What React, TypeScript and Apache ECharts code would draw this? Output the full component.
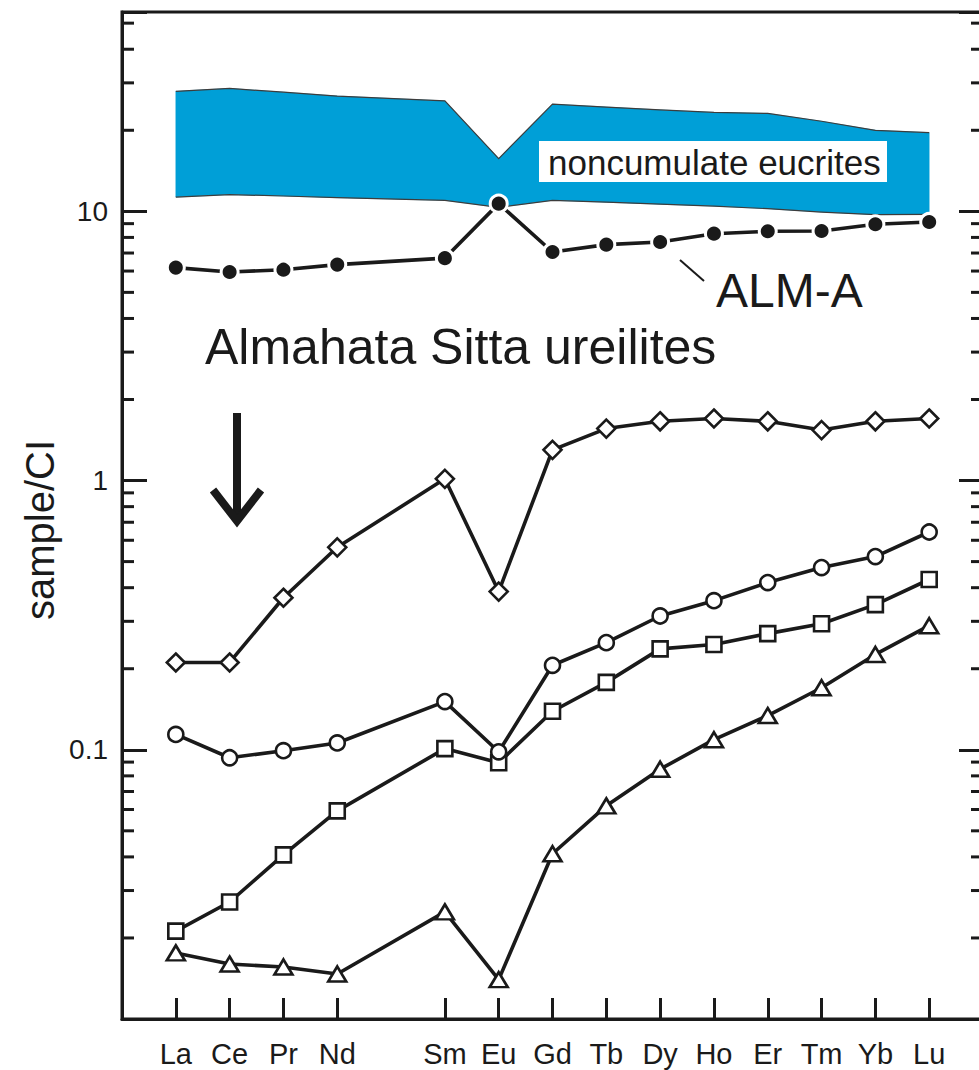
import React, { useEffect, useRef } from 'react';
import * as echarts from 'echarts';

// Rare-earth elements (padding slots at both ends; Pm is not analysed)
const categories = [' ', 'La', 'Ce', 'Pr', 'Nd', 'Pm', 'Sm', 'Eu', 'Gd', 'Tb', 'Dy', 'Ho', 'Er', 'Tm', 'Yb', 'Lu', '  '];
const hiddenCategories = [' ', 'Pm', '  '];

// ALM-A (filled circles)
const almA = [null, 6.18, 5.95, 6.07, 6.34, null, 6.7, 10.68, 7.06, 7.52, 7.69, 8.26, 8.43, 8.45, 8.95, 9.13, null];
// Almahata Sitta ureilites
const diamonds = [null, 0.211, 0.211, 0.367, 0.565, null, 1.015, 0.387, 1.3, 1.56, 1.66, 1.7, 1.66, 1.54, 1.66, 1.7, null];
const circles = [null, 0.114, 0.0934, 0.0992, 0.106, null, 0.151, 0.0983, 0.206, 0.25, 0.314, 0.358, 0.418, 0.475, 0.522, 0.644, null];
const squares = [null, 0.0212, 0.0272, 0.0407, 0.0593, null, 0.101, 0.0895, 0.139, 0.178, 0.237, 0.246, 0.27, 0.294, 0.346, 0.429, null];
const triangles = [null, 0.0176, 0.016, 0.0156, 0.0147, null, 0.025, 0.014, 0.0411, 0.0619, 0.0847, 0.109, 0.134, 0.17, 0.226, 0.289, null];
// Noncumulate eucrites field
const eucriteTop = [null, 27.9, 28.6, 27.7, 26.8, null, 25.7, 15.7, 25.0, 24.4, 23.8, 23.3, 23.1, 21.6, 20.0, 19.6, null];
const eucriteBottom = [null, 11.3, 11.54, 11.4, 11.24, null, 10.99, 10.35, 10.99, 10.81, 10.63, 10.46, 10.23, 9.94, 9.72, 9.75, null];

// Y axis
const yMin = 0.01;
const yMax = 55;
const yTickLabels = ['0.1', '1', '10'];
const minorTickValues = [
  0.02, 0.03, 0.04, 0.05, 0.06, 0.07, 0.08, 0.09,
  0.2, 0.3, 0.4, 0.5, 0.6, 0.7, 0.8, 0.9,
  2, 3, 4, 5, 6, 7, 8, 9,
  20, 30, 40, 50,
];

export default function App() {
  const ref = useRef<HTMLDivElement>(null);

  useEffect(() => {
    if (!ref.current) return;
    const chart = echarts.init(ref.current, null, { renderer: 'svg' });
    const font = "'Liberation Sans', Arial, Helvetica, sans-serif";
    const ink = '#1a1a1a';
    const blue = '#009fd7';

    const yFormatter = (v: number) => {
      const hit = yTickLabels.find((s) => Math.abs(v / parseFloat(s) - 1) < 1e-6);
      return hit ? hit : '';
    };

    const lineSeries = (name: string, data: (number | null)[], symbol: string, size: any, filled = false) => ({
      type: 'line',
      name,
      data,
      connectNulls: true,
      symbol,
      symbolSize: size,
      showAllSymbol: true,
      lineStyle: { color: ink, width: 3.6 },
      itemStyle: {
        color: filled ? ink : '#ffffff',
        borderColor: filled ? '#ffffff' : ink,
        borderWidth: filled ? 3 : 2.6,
      },
      z: 5,
      silent: true,
    });

    const option: any = {
      animation: false,
      backgroundColor: '#ffffff',
      grid: {
        left: 122,
        top: 12,
        right: 0,
        bottom: 51,
        show: true,
        borderColor: ink,
        borderWidth: 3,
        backgroundColor: 'transparent',
      },
      xAxis: {
        type: 'category',
        data: categories,
        boundaryGap: false,
        axisLine: { show: true, lineStyle: { color: ink, width: 3 } },
        axisTick: {
          show: true,
          inside: true,
          length: 21,
          interval: (i: number, v: string) => !hiddenCategories.includes(v),
          lineStyle: { color: ink, width: 3 },
        },
        axisLabel: {
          interval: 0,
          margin: 20,
          fontSize: 29,
          color: ink,
          fontFamily: font,
          formatter: (v: string) => (hiddenCategories.includes(v) ? '' : v),
        },
        splitLine: { show: false },
      },
      yAxis: [
        {
          type: 'log',
          logBase: 10,
          min: yMin,
          max: yMax,
          position: 'left',
          axisLine: { show: true, lineStyle: { color: ink, width: 3 } },
          axisTick: { show: true, inside: true, length: 25, lineStyle: { color: ink, width: 3 } },
          axisLabel: { margin: 14, fontSize: 28, color: ink, fontFamily: font, formatter: yFormatter },
          splitLine: { show: false },
        },
        {
          type: 'log',
          logBase: 10,
          min: yMin,
          max: yMax,
          position: 'right',
          axisLine: { show: true, lineStyle: { color: ink, width: 3 } },
          axisTick: { show: true, inside: true, length: 24, lineStyle: { color: ink, width: 3 } },
          axisLabel: { show: false },
          splitLine: { show: false },
        },
      ],
      series: [
        {
          type: 'custom',
          name: 'noncumulate eucrites',
          silent: true,
          z: 1,
          data: [[1, eucriteBottom[1]]],
          encode: { x: 0, y: 1 },
          renderItem: (params: any, api: any) => {
            if (params.dataIndex !== 0) return null;
            const topPts: number[][] = [];
            const botPts: number[][] = [];
            categories.forEach((c, i) => {
              const t = eucriteTop[i];
              const b = eucriteBottom[i];
              if (t != null && b != null) {
                topPts.push(api.coord([i, t]));
                botPts.push(api.coord([i, b]));
              }
            });
            const poly = topPts.concat(botPts.slice().reverse());
            return {
              type: 'group',
              children: [
                { type: 'polygon', shape: { points: poly }, style: { fill: blue, stroke: blue, lineWidth: 0.5 } },
                { type: 'polyline', shape: { points: topPts }, style: { stroke: '#3c3c3c', lineWidth: 1.2, fill: null } },
                { type: 'polyline', shape: { points: botPts }, style: { stroke: '#3c3c3c', lineWidth: 1.2, fill: null } },
              ],
            };
          },
        },
        {
          type: 'custom',
          name: 'minor ticks',
          silent: true,
          z: 3,
          data: minorTickValues.map((v) => [0, v]),
          encode: { x: 0, y: 1 },
          renderItem: (params: any, api: any) => {
            const cs = params.coordSys;
            const y = api.coord([0, api.value(1)])[1];
            return {
              type: 'group',
              children: [
                { type: 'line', shape: { x1: cs.x, y1: y, x2: cs.x + 12, y2: y }, style: { stroke: ink, lineWidth: 3 } },
                {
                  type: 'line',
                  shape: { x1: cs.x + cs.width - 12, y1: y, x2: cs.x + cs.width, y2: y },
                  style: { stroke: ink, lineWidth: 3 },
                },
              ],
            };
          },
        },
        lineSeries('triangles', triangles, 'triangle', [18, 15]),
        lineSeries('squares', squares, 'rect', 15),
        lineSeries('circles', circles, 'circle', 15),
        lineSeries('diamonds', diamonds, 'diamond', 18),
        lineSeries('ALM-A', almA, 'circle', 17, true),
      ],
      graphic: [
        {
          type: 'text',
          x: 40,
          y: 530,
          rotation: Math.PI / 2,
          z: 100,
          style: { text: 'sample/CI', fontSize: 40, fontFamily: font, fill: ink, align: 'center', verticalAlign: 'middle' },
        },
        {
          type: 'text',
          x: 205,
          y: 347,
          z: 100,
          style: { text: 'Almahata Sitta ureilites', fontSize: 50, fontFamily: font, fill: ink, align: 'left', verticalAlign: 'middle' },
        },
        {
          type: 'text',
          x: 716,
          y: 290,
          z: 100,
          style: { text: 'ALM-A', fontSize: 48, fontFamily: font, fill: ink, align: 'left', verticalAlign: 'middle' },
        },
        {
          type: 'line',
          z: 100,
          shape: { x1: 680, y1: 260, x2: 704, y2: 281 },
          style: { stroke: ink, lineWidth: 2 },
        },
        {
          type: 'rect',
          z: 100,
          shape: { x: 539, y: 141, width: 348, height: 41 },
          style: { fill: '#ffffff' },
        },
        {
          type: 'text',
          x: 548,
          y: 162,
          z: 101,
          style: { text: 'noncumulate eucrites', fontSize: 35, fontFamily: font, fill: ink, align: 'left', verticalAlign: 'middle' },
        },
        {
          type: 'line',
          z: 100,
          shape: { x1: 237, y1: 413, x2: 237, y2: 518 },
          style: { stroke: ink, lineWidth: 8 },
        },
        {
          type: 'polyline',
          z: 100,
          shape: { points: [[213, 490], [237, 521], [261, 490]] },
          style: { stroke: ink, lineWidth: 8, fill: null, lineJoin: 'miter' },
        },
      ],
    };

    chart.setOption(option);
    return () => {
      chart.dispose();
    };
  }, []);

  return (
    <div
      style={{ position: 'absolute', left: 0, top: 0, width: 979, height: 1070, overflow: 'hidden', background: '#ffffff' }}
    >
      <div ref={ref} style={{ width: 986, height: 1070 }} />
    </div>
  );
}
